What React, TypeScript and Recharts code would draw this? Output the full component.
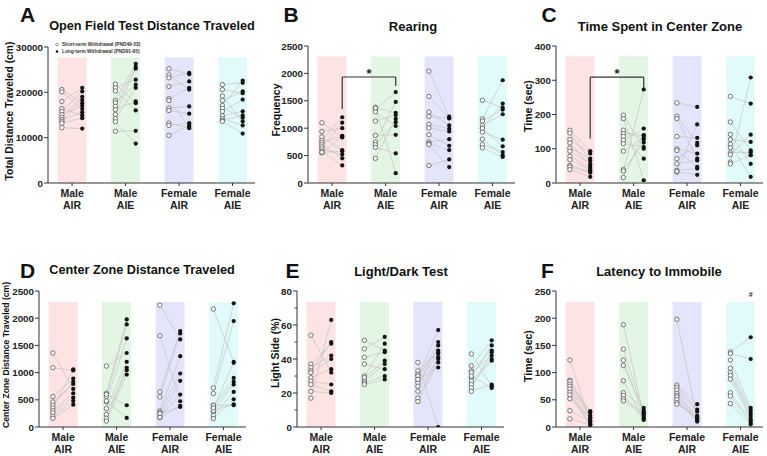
import React from 'react';
import { ScatterChart, Scatter, XAxis, YAxis, ReferenceArea, ReferenceLine, ReferenceDot } from 'recharts';

const FONT = '"Liberation Sans", Arial, Helvetica, sans-serif';

const groupLabels = [['Male', 'AIR'], ['Male', 'AIE'], ['Female', 'AIR'], ['Female', 'AIE']];
const shadeColors = ['#fde3e3', '#e3f5e3', '#e4e4fb', '#e1fbfb'];

// A - open field total distance (cm), short-term vs long-term withdrawal, paired by index
const distShort = [
  [20600, 20100, 18000, 16400, 15800, 15100, 14500, 14000, 13600, 13200, 12200],
  [21800, 21000, 20300, 18200, 17700, 16900, 16200, 15100, 14200, 13500, 11400],
  [25200, 23800, 23200, 21300, 18600, 18200, 16500, 16000, 13200, 12700, 10500],
  [21700, 20600, 19200, 18200, 17100, 16500, 15800, 14800, 14200, 13800, 13600],
];
const distLong = [
  [17600, 16300, 21000, 14900, 20200, 17000, 19000, 15600, 18300, 14300, 12000],
  [17600, 22800, 16000, 26300, 21700, 25600, 18000, 25200, 21000, 8700, 11500],
  [24000, 20600, 24300, 22400, 21000, 12400, 16900, 15300, 12100, 13200, 12700],
  [22100, 19800, 13600, 20200, 22600, 14400, 18400, 15800, 12700, 14900, 10900],
];

// B - rearing frequency
const rearShort = [
  [1100, 940, 840, 780, 740, 700, 660, 620, 580, 550, 560],
  [1380, 1340, 1300, 1370, 1130, 870, 750, 700, 650, 450],
  [2040, 1580, 1295, 1215, 1070, 1005, 880, 750, 720, 700, 320],
  [1510, 1170, 1130, 1050, 1000, 930, 800, 700, 640, 1000],
];
const rearLong = [
  [830, 1000, 600, 1200, 860, 450, 1100, 520, 320, 850, 580],
  [1280, 1660, 1040, 180, 1240, 880, 1480, 1110, 540, 1170],
  [1210, 1180, 1050, 1180, 990, 940, 680, 800, 600, 290, 430],
  [1375, 1875, 1340, 1255, 670, 790, 505, 565, 475, 1450],
];

// C - time in center zone (sec)
const timeShort = [
  [154, 146, 127, 117, 102, 93, 78, 68, 51, 47, 39],
  [198, 188, 154, 144, 136, 125, 115, 93, 39, 35, 16],
  [234, 195, 188, 136, 100, 95, 71, 56, 37, 32, 34],
  [253, 178, 142, 127, 113, 103, 88, 83, 61, 56],
];
const timeLong = [
  [93, 66, 86, 50, 71, 56, 44, 39, 34, 30, 18],
  [100, 8, 127, 139, 71, 159, 105, 132, 118, 273, 140],
  [222, 117, 71, 132, 86, 47, 110, 66, 42, 24, 171],
  [232, 95, 56, 120, 18, 81, 90, 141, 308, 81],
];

// D - center zone distance (cm)
const cdShort = [
  [1360, 1090, 560, 460, 400, 350, 300, 260, 200, 160],
  [1120, 620, 560, 460, 340, 230, 160, 110, 600, 480],
  [2240, 1677, 645, 553, 295, 264, 172, 200, 180, 250],
  [2168, 719, 614, 399, 350, 276, 215, 154, 300, 400, 350],
];
const cdLong = [
  [700, 1040, 890, 790, 830, 1060, 620, 540, 480, 410],
  [1360, 1978, 1886, 1628, 1198, 1087, 1044, 964, 400, 166],
  [1609, 473, 1763, 1720, 1302, 983, 848, 596, 387, 369],
  [1198, 2273, 1947, 903, 830, 780, 645, 510, 418, 400, 1180],
];

// E - light side (%)
const lightShort = [
  [54, 37, 35, 33, 32, 29, 27, 25, 21, 17],
  [51, 46, 41, 37, 30, 29, 27, 26, 25],
  [38, 33, 31, 30, 28, 26, 24, 21, 17, 15, 28],
  [43, 36, 33, 32, 29, 27, 25, 23, 21, 30],
];
const lightLong = [
  [32, 49, 42, 50, 40, 34, 25, 21, 20, 63],
  [45, 53, 44, 34, 49, 39, 37, 30, 28],
  [0, 45, 44, 57, 50, 43, 48, 41, 40, 38, 35],
  [24, 51, 45, 42, 48, 40, 39, 44, 25, 23],
];

// F - latency to immobile (sec)
const latShort = [
  [123, 86, 84, 79, 75, 70, 64, 59, 52, 30, 15],
  [188, 143, 123, 113, 85, 63, 58, 52, 48],
  [198, 77, 73, 68, 62, 58, 55, 50, 45, 42],
  [138, 135, 123, 108, 100, 95, 88, 63, 57, 43],
];
const latLong = [
  [10, 26, 17, 29, 21, 13, 6, 4, 17, 10, 4],
  [20, 25, 17, 30, 13, 35, 15, 27, 22],
  [15, 42, 32, 28, 20, 17, 12, 10, 15, 20],
  [165, 125, 35, 30, 25, 20, 15, 12, 8, 5],
];

const OFF = 0.19;
const HALF = 0.27;
const PLOT_W = 207;

const XTick = (props: any) => {
  const { x, y, payload } = props;
  const [a, b] = groupLabels[payload.value] ?? ['', ''];
  return (
    <g>
      <line x1={x} x2={x} y1={y} y2={y + 3} stroke="#333" />
      <text x={x} y={y + 13.5} textAnchor="middle" fontSize={10.5} fontWeight="bold" fill="#222" fontFamily={FONT}>{a}</text>
      <text x={x} y={y + 26} textAnchor="middle" fontSize={10.5} fontWeight="bold" fill="#222" fontFamily={FONT}>{b}</text>
    </g>
  );
};

function makeYTick(majors: number[]) {
  return (props: any) => {
    const { x, y, payload } = props;
    const major = majors.includes(payload.value);
    return (
      <g>
        <line x1={x - (major ? 4 : 2.5)} x2={x} y1={y} y2={y} stroke="#333" />
        {major && (
          <text x={x - 5} y={y + 3.5} textAnchor="end" fontSize={9.8} fontWeight="bold" fill="#222" fontFamily={FONT}>
            {payload.value}
          </text>
        )}
      </g>
    );
  };
}

const OpenDot = (p: any) => <circle cx={p.cx} cy={p.cy} r={2.2} fill="#fff" stroke="#555" strokeWidth={0.8} />;
const FilledDot = (p: any) => <circle cx={p.cx} cy={p.cy} r={2.1} fill="#111" />;
const NoDot = () => <g />;

interface PanelProps {
  left: number;
  top: number;
  plotH: number;
  yMax: number;
  majors: number[];
  minors?: number[];
  shadeTop: number;
  short: number[][];
  long: number[][];
  extras?: React.ReactNode[];
}

function Panel({ left, top, plotH, yMax, majors, minors = [], shadeTop, short, long, extras = [] }: PanelProps) {
  const pairs: { s: any; l: any }[] = [];
  short.forEach((arr, g) =>
    arr.forEach((v, i) => pairs.push({ s: { x: g - OFF, y: v }, l: { x: g + OFF, y: long[g][i] } })),
  );
  const shortPts = pairs.map((p) => p.s);
  const longPts = pairs.map((p) => p.l);
  const YTick = makeYTick(majors);

  return (
    <div style={{ position: 'absolute', left: left - 48, top: top - 10 }}>
      <ScatterChart width={48 + PLOT_W + 2} height={10 + plotH + 35} margin={{ top: 10, right: 2, bottom: 5, left: 8 }}>
        <XAxis
          type="number" dataKey="x" domain={[-0.45, 3.42]} ticks={[0, 1, 2, 3]} interval={0}
          tick={<XTick />} tickSize={0} tickMargin={0} height={30} allowDataOverflow
          axisLine={{ stroke: '#333' }} tickLine={false}
        />
        <YAxis
          type="number" dataKey="y" domain={[0, yMax]} ticks={[...majors, ...minors]} interval={0}
          tick={<YTick />} tickSize={0} tickMargin={0} width={40} allowDataOverflow
          axisLine={{ stroke: '#333' }} tickLine={false}
        />
        {shadeColors.map((c, g) => (
          <ReferenceArea key={'sh' + g} x1={g - HALF} x2={g + HALF} y1={0} y2={shadeTop} fill={c} fillOpacity={1} stroke="none" />
        ))}
        {pairs.map((p, i) => (
          <Scatter
            key={'pl' + i} data={[p.s, p.l]} line={{ stroke: '#c4c4c4', strokeWidth: 0.7 }}
            shape={<NoDot />} isAnimationActive={false}
          />
        ))}
        <Scatter data={shortPts} shape={<OpenDot />} isAnimationActive={false} />
        <Scatter data={longPts} shape={<FilledDot />} isAnimationActive={false} />
        {extras}
      </ScatterChart>
    </div>
  );
}

const bracket = (yLeft: number, yTop: number, yRight: number, starY: number, k: string) => [
  <ReferenceLine key={k + 'a'} segment={[{ x: OFF, y: yLeft }, { x: OFF, y: yTop }]} stroke="#333" strokeWidth={1.2} />,
  <ReferenceLine key={k + 'b'} segment={[{ x: OFF, y: yTop }, { x: 1 + OFF, y: yTop }]} stroke="#333" strokeWidth={1.2} />,
  <ReferenceLine key={k + 'c'} segment={[{ x: 1 + OFF, y: yTop }, { x: 1 + OFF, y: yRight }]} stroke="#333" strokeWidth={1.2} />,
  <ReferenceDot
    key={k + 'd'} x={0.5 + OFF} y={starY} r={0}
    shape={(p: any) => (
      <text x={p.cx} y={p.cy + 6} textAnchor="middle" fontSize={13} fontWeight="bold" fill="#222" fontFamily={FONT}>*</text>
    )}
  />,
];

const hashMark = [
  <ReferenceDot
    key="hash" x={3 + OFF} y={243} r={0}
    shape={(p: any) => (
      <text x={p.cx} y={p.cy + 2.5} textAnchor="middle" fontSize={7} fontWeight="bold" fill="#222" fontFamily={FONT}>#</text>
    )}
  />,
];

const T = (props: any) => (
  <text fontFamily={FONT} fontWeight="bold" fill="#111" textAnchor="middle" dominantBaseline="central" {...props} />
);

export default function App() {
  return (
    <div style={{ position: 'absolute', left: 0, top: 0, width: 767, height: 456, overflow: 'hidden', background: '#fff' }}>
      <Panel left={48} top={47} plotH={136} yMax={30000} majors={[0, 10000, 20000, 30000]} shadeTop={27700} short={distShort} long={distLong} />
      <Panel left={308} top={46} plotH={137} yMax={2500} majors={[0, 500, 1000, 1500, 2000, 2500]} shadeTop={2310} short={rearShort} long={rearLong}
        extras={bracket(1350, 1934, 1770, 2030, 'b')} />
      <Panel left={556} top={46} plotH={137} yMax={400} majors={[0, 100, 200, 300, 400]} shadeTop={370} short={timeShort} long={timeLong}
        extras={bracket(130, 309, 275, 325, 'c')} />
      <Panel left={39} top={291} plotH={136} yMax={2500} majors={[0, 500, 1000, 1500, 2000, 2500]} shadeTop={2298} short={cdShort} long={cdLong} />
      <Panel left={297} top={291} plotH={136} yMax={80} majors={[0, 20, 40, 60, 80]} minors={[10, 30, 50, 70]} shadeTop={73.5} short={lightShort} long={lightLong} />
      <Panel left={556} top={291} plotH={136} yMax={250} majors={[0, 50, 100, 150, 200, 250]} shadeTop={230} short={latShort} long={latLong} extras={hashMark} />

      <svg width={767} height={456} style={{ position: 'absolute', left: 0, top: 0, pointerEvents: 'none' }}>
        <T x={27.5} y={14} fontSize={21}>A</T>
        <T x={291} y={14} fontSize={21}>B</T>
        <T x={549} y={14} fontSize={21}>C</T>
        <T x={27.5} y={270} fontSize={21}>D</T>
        <T x={292.5} y={270} fontSize={21}>E</T>
        <T x={547.5} y={270} fontSize={21}>F</T>

        <T x={152} y={26} fontSize={12.7}>Open Field Test Distance Traveled</T>
        <T x={413} y={26} fontSize={13}>Rearing</T>
        <T x={660} y={26} fontSize={13}>Time Spent in Center Zone</T>
        <T x={142} y={270} fontSize={12.7}>Center Zone Distance Traveled</T>
        <T x={401} y={271} fontSize={13}>Light/Dark Test</T>
        <T x={659} y={271} fontSize={13}>Latency to Immobile</T>

        <T x={9} y={111} fontSize={10.3} transform="rotate(-90 9 111)">Total Distance Traveled (cm)</T>
        <T x={275.5} y={110} fontSize={10.5} transform="rotate(-90 275.5 110)">Frequency</T>
        <T x={528} y={106} fontSize={10.5} transform="rotate(-90 528 106)">Time (sec)</T>
        <T x={6} y={355} fontSize={8.6} transform="rotate(-90 6 355)">Center Zone Distance Traveled (cm)</T>
        <T x={275} y={353} fontSize={10.5} transform="rotate(-90 275 353)">Light Side (%)</T>
        <T x={528} y={356} fontSize={10.5} transform="rotate(-90 528 356)">Time (sec)</T>

        <circle cx={57} cy={44.5} r={1.3} fill="#fff" stroke="#555" strokeWidth={0.6} />
        <circle cx={57} cy={51.5} r={1.3} fill="#111" />
        <T x={62} y={44.5} fontSize={4.8} textAnchor="start" fill="#333">Short-term  Withdrawal (PND49-53)</T>
        <T x={62} y={51.5} fontSize={4.8} textAnchor="start" fill="#333">Long-term  Withdrawal (PND91-95)</T>
      </svg>
    </div>
  );
}
